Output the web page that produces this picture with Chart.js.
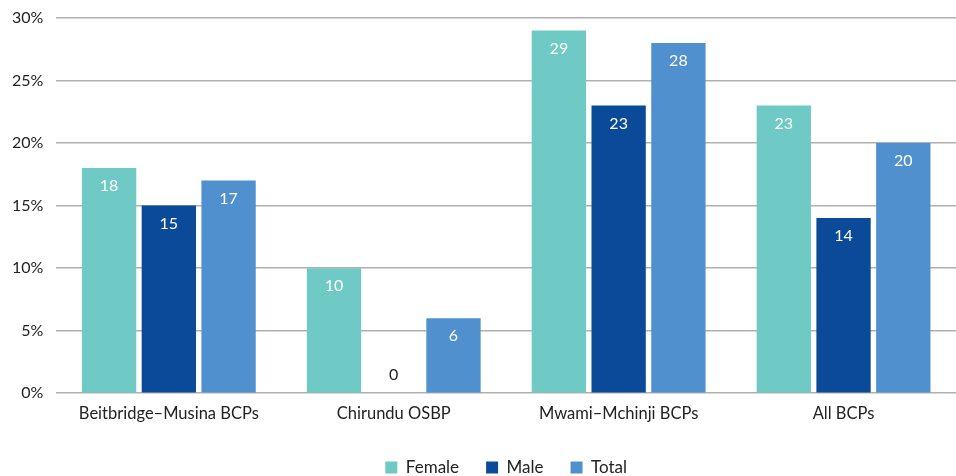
<!DOCTYPE html>
<html>
<head>
<meta charset="utf-8">
<script src="https://cdn.jsdelivr.net/npm/chart.js@4/dist/chart.umd.min.js"></script>
<style>
  html, body { margin: 0; padding: 0; background: #fff; }
  #wrap { width: 956px; height: 476px; position: relative; }
</style>
</head>
<body>
<div id="wrap"><canvas id="c"></canvas></div>
<script>
const categories = ['Beitbridge\u2013Musina BCPs', 'Chirundu OSBP', 'Mwami\u2013Mchinji BCPs', 'All BCPs'];
const female = [18, 10, 29, 23];
const male = [15, 0, 23, 14];
const total = [17, 6, 28, 20];
const yTicks = [0, 5, 10, 15, 20, 25, 30];

const FONT = 'Lato, "Open Sans", sans-serif';

// Writes each bar's value just inside its top; zero bars get a dark label above the baseline
const valueLabels = {
  id: 'valueLabels',
  afterDatasetsDraw(chart) {
    const ctx = chart.ctx;
    ctx.save();
    ctx.font = '16px ' + FONT;
    ctx.textAlign = 'center';
    ctx.textBaseline = 'middle';
    chart.data.datasets.forEach((ds, di) => {
      const meta = chart.getDatasetMeta(di);
      meta.data.forEach((bar, i) => {
        const v = ds.data[i];
        if (v === 0) {
          ctx.fillStyle = '#222';
          ctx.fillText(String(v), bar.x, bar.y - 18);
        } else {
          ctx.fillStyle = '#ffffff';
          ctx.fillText(String(v), bar.x, bar.y + 18);
        }
      });
    });
    ctx.restore();
  }
};

// Centres the legend under the plot area rather than the whole canvas
const legendShift = {
  id: 'legendShift',
  afterLayout(chart) {
    const lg = chart.legend;
    if (!lg) return;
    const shift = (chart.chartArea.left + chart.chartArea.right) / 2 - (lg.left + lg.right) / 2;
    lg.left += shift;
    lg.right += shift;
  }
};

new Chart(document.getElementById('c'), {
  type: 'bar',
  data: {
    labels: categories,
    datasets: [
      { label: 'Female', data: female, backgroundColor: '#6fc9c4' },
      { label: 'Male', data: male, backgroundColor: '#0b4a99' },
      { label: 'Total', data: total, backgroundColor: '#5090cf' }
    ]
  },
  options: {
    responsive: true,
    maintainAspectRatio: false,
    animation: false,
    categoryPercentage: 0.797,
    barPercentage: 0.909,
    layout: { padding: { top: 18, right: -11, left: -1, bottom: -10 } },
    plugins: {
      legend: {
        position: 'bottom',
        labels: {
          boxWidth: 12,
          boxHeight: 12,
          padding: 27,
          color: '#222',
          font: { family: FONT, size: 17 }
        }
      },
      tooltip: { enabled: false }
    },
    scales: {
      x: {
        grid: { display: false, drawTicks: false },
        border: { display: false },
        ticks: { color: '#222', font: { family: FONT, size: 16.5 }, padding: 11 },
        afterFit(scale) { scale.height -= 3; }
      },
      y: {
        min: 0,
        max: 30,
        afterBuildTicks(scale) { scale.ticks = yTicks.map(v => ({ value: v })); },
        afterFit(scale) { scale.paddingTop = 0; },
        grid: { color: '#b0b0b0', lineWidth: 1.5, drawTicks: false },
        border: { display: false },
        ticks: {
          color: '#222',
          font: { family: FONT, size: 16 },
          padding: 13,
          callback: v => v + '%'
        }
      }
    }
  },
  plugins: [valueLabels, legendShift]
});
</script>
</body>
</html>
